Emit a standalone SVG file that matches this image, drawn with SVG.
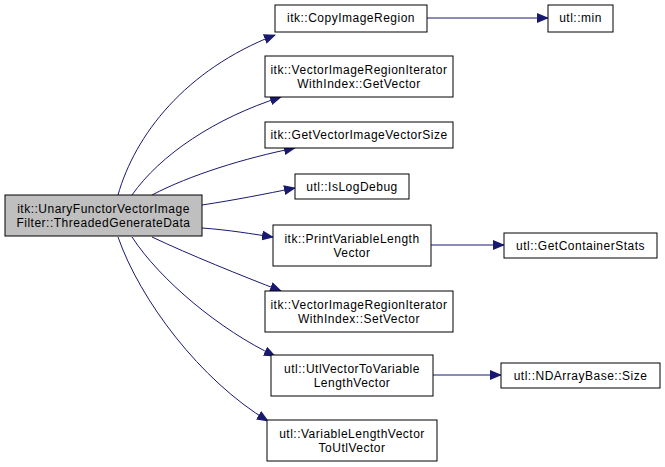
<svg xmlns="http://www.w3.org/2000/svg" width="665" height="467" viewBox="0 0 665 467">
<style>
.n rect{fill:#fff;stroke:#000;stroke-width:1}
.n.root rect{fill:#bfbfbf}
text{font-family:"Liberation Sans",Arial,sans-serif;font-size:12px;letter-spacing:0.5px;text-anchor:middle;fill:#000}
.e path{fill:none;stroke:#191970;stroke-width:1;marker-end:url(#ah)}
</style>
<defs>
<marker id="ah" markerWidth="12" markerHeight="10" refX="11" refY="5" orient="auto" markerUnits="userSpaceOnUse">
<path d="M0,0 L12,5 L0,10 Z" fill="#191970"/>
</marker>
</defs>
<rect width="665" height="467" fill="#fff"/>
<g id="edges" class="e">
<path d="M118,195 C135,135 185,70 275,35"/>
<path d="M132,195 C160,155 215,118 281,97"/>
<path d="M152,195 C190,175 245,158 295,148"/>
<path d="M202,205 C235,200 265,194 295,188"/>
<path d="M202,228 C230,230 252,234 273,237"/>
<path d="M152,237 C190,255 240,275 281,291"/>
<path d="M132,237 C160,280 220,330 275,356"/>
<path d="M118,237 C140,300 200,380 268,421"/>
<path d="M427,18 L548,18"/>
<path d="M431,245 L504,245"/>
<path d="M433,375 L501,375"/>
</g>
<g id="root" class="n root"><rect x="5" y="195" width="197" height="41"/><text x="103.5" y="213">itk::UnaryFunctorVectorImage</text><text x="103.5" y="227">Filter::ThreadedGenerateData</text></g>
<g id="copyImageRegion" class="n"><rect x="275" y="5" width="152" height="27"/><text x="351" y="22">itk::CopyImageRegion</text></g>
<g id="min" class="n"><rect x="548" y="5" width="65" height="27"/><text x="580.5" y="22">utl::min</text></g>
<g id="getVector" class="n"><rect x="265" y="56" width="188" height="41"/><text x="359" y="74">itk::VectorImageRegionIterator</text><text x="359" y="88">WithIndex::GetVector</text></g>
<g id="getVectorImageVectorSize" class="n"><rect x="265" y="122" width="188" height="26"/><text x="359" y="139">itk::GetVectorImageVectorSize</text></g>
<g id="isLogDebug" class="n"><rect x="295" y="174" width="114" height="25"/><text x="352" y="191">utl::IsLogDebug</text></g>
<g id="printVariableLengthVector" class="n"><rect x="273" y="225" width="158" height="41"/><text x="352" y="243">itk::PrintVariableLength</text><text x="352" y="257">Vector</text></g>
<g id="getContainerStats" class="n"><rect x="504" y="233" width="153" height="25"/><text x="580.5" y="250">utl::GetContainerStats</text></g>
<g id="setVector" class="n"><rect x="265" y="291" width="188" height="41"/><text x="359" y="309">itk::VectorImageRegionIterator</text><text x="359" y="323">WithIndex::SetVector</text></g>
<g id="utlVectorToVariableLengthVector" class="n"><rect x="271" y="355" width="162" height="41"/><text x="352" y="373">utl::UtlVectorToVariable</text><text x="352" y="387">LengthVector</text></g>
<g id="ndArrayBaseSize" class="n"><rect x="501" y="363" width="159" height="25"/><text x="580.5" y="380">utl::NDArrayBase::Size</text></g>
<g id="variableLengthVectorToUtlVector" class="n"><rect x="267" y="420" width="170" height="41"/><text x="352" y="438">utl::VariableLengthVector</text><text x="352" y="452">ToUtlVector</text></g>
</svg>
